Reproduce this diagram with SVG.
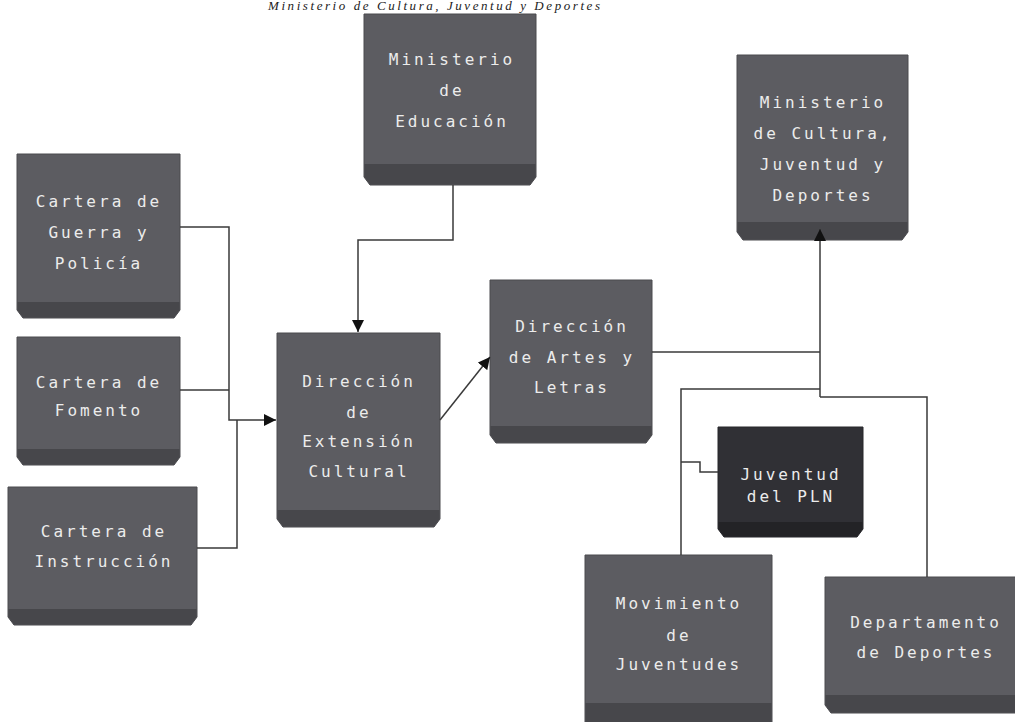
<svg xmlns="http://www.w3.org/2000/svg" width="1015" height="722" viewBox="0 0 1015 722">
<style>
.box{fill:#5c5c61;stroke:#4a4a4e;stroke-width:1}
.band{fill:#47474b}
.dark{fill:#303035;stroke:#26262a;stroke-width:1}
.dband{fill:#232326}
.lbl{font-family:"DejaVu Sans Mono","Liberation Mono",monospace;font-size:16px;letter-spacing:3px;fill:#ececec;text-anchor:middle}
.con{fill:none;stroke:#3a3a3a;stroke-width:1.5}
.title{font-family:"Liberation Serif",serif;font-style:italic;font-size:13px;fill:#222}
</style>
<defs>
<marker id="arr" markerUnits="userSpaceOnUse" markerWidth="14" markerHeight="12" refX="12" refY="6" orient="auto">
<path d="M0,0 L12,6 L0,12 Z" fill="#111"/>
</marker>
</defs>
<rect width="1015" height="722" fill="#ffffff"/>
<text class="title" x="268" y="10" textLength="332" lengthAdjust="spacing">Ministerio de Cultura, Juventud y Deportes</text>

<g id="guerra">
<path class="box" d="M17,154 H180 V310 L174,318 H23 L17,310 Z"/>
<path class="band" d="M17.5,302 H179.5 V310 L174,317.5 H23 L17.5,310 Z"/>
<text class="lbl" x="99" y="207">Cartera de</text>
<text class="lbl" x="99" y="238">Guerra y</text>
<text class="lbl" x="99" y="269">Policía</text>
</g>

<g id="fomento">
<path class="box" d="M17,337 H180 V457 L174,465 H23 L17,457 Z"/>
<path class="band" d="M17.5,449 H179.5 V457 L174,464.5 H23 L17.5,457 Z"/>
<text class="lbl" x="99" y="388">Cartera de</text>
<text class="lbl" x="99" y="416">Fomento</text>
</g>

<g id="instruccion">
<path class="box" d="M8,487 H197 V617 L191,625 H14 L8,617 Z"/>
<path class="band" d="M8.5,609 H196.5 V617 L191,624.5 H14 L8.5,617 Z"/>
<text class="lbl" x="104" y="537">Cartera de</text>
<text class="lbl" x="104" y="567">Instrucción</text>
</g>

<g id="extension">
<path class="box" d="M277,333 H440 V519 L434,527 H283 L277,519 Z"/>
<path class="band" d="M277.5,510 H439.5 V519 L434,526.5 H283 L277.5,519 Z"/>
<text class="lbl" x="359" y="387">Dirección</text>
<text class="lbl" x="359" y="418">de</text>
<text class="lbl" x="359" y="447">Extensión</text>
<text class="lbl" x="359" y="477">Cultural</text>
</g>

<g id="educacion">
<path class="box" d="M364,14 H536 V177 L530,185 H370 L364,177 Z"/>
<path class="band" d="M364.5,164 H535.5 V177 L530,184.5 H370 L364.5,177 Z"/>
<text class="lbl" x="452" y="65">Ministerio</text>
<text class="lbl" x="452" y="96">de</text>
<text class="lbl" x="452" y="127">Educación</text>
</g>

<g id="artes">
<path class="box" d="M490,280 H652 V435 L646,443 H496 L490,435 Z"/>
<path class="band" d="M490.5,426 H651.5 V435 L646,442.5 H496 L490.5,435 Z"/>
<text class="lbl" x="572" y="332">Dirección</text>
<text class="lbl" x="572" y="363">de Artes y</text>
<text class="lbl" x="572" y="393">Letras</text>
</g>

<g id="cultura">
<path class="box" d="M737,55 H908 V232 L902,240 H743 L737,232 Z"/>
<path class="band" d="M737.5,222 H907.5 V232 L902,239.5 H743 L737.5,232 Z"/>
<text class="lbl" x="823" y="108">Ministerio</text>
<text class="lbl" x="823" y="139">de Cultura,</text>
<text class="lbl" x="823" y="170">Juventud y</text>
<text class="lbl" x="823" y="201">Deportes</text>
</g>

<g id="pln">
<path class="dark" d="M718,427 H863 V529 L857,537 H724 L718,529 Z"/>
<path class="dband" d="M718.5,522 H862.5 V529 L857,536.5 H724 L718.5,529 Z"/>
<text class="lbl" x="791" y="480">Juventud</text>
<text class="lbl" x="791" y="502">del PLN</text>
</g>

<g id="movimiento">
<path class="box" d="M585,555 H772 V730 H585 Z"/>
<path class="band" d="M585.5,703 H771.5 V730 H585.5 Z"/>
<text class="lbl" x="679" y="609">Movimiento</text>
<text class="lbl" x="679" y="641">de</text>
<text class="lbl" x="679" y="670">Juventudes</text>
</g>

<g id="departamento">
<path class="box" d="M825,577 H1020 V713 H831 L825,705 Z"/>
<path class="band" d="M825.5,695 H1020 V712.5 H831 L825.5,705 Z"/>
<text class="lbl" x="926" y="628">Departamento</text>
<text class="lbl" x="926" y="658">de Deportes</text>
</g>

<g id="connectors">
<path class="con" d="M180,227 H229 V420 H276" marker-end="url(#arr)"/>
<path class="con" d="M180,390 H229"/>
<path class="con" d="M197,548 H237 V420"/>
<path class="con" d="M453,185 V240 H358 V332" marker-end="url(#arr)"/>
<path class="con" d="M440,420 L490,357" marker-end="url(#arr)"/>
<path class="con" d="M820,397 V229" marker-end="url(#arr)"/>
<path class="con" d="M652,352 H820"/>
<path class="con" d="M681,555 V389 H820"/>
<path class="con" d="M820,397 H927 V577"/>
<path class="con" d="M681,462 H700 V472 H718"/>
</g>
</svg>
